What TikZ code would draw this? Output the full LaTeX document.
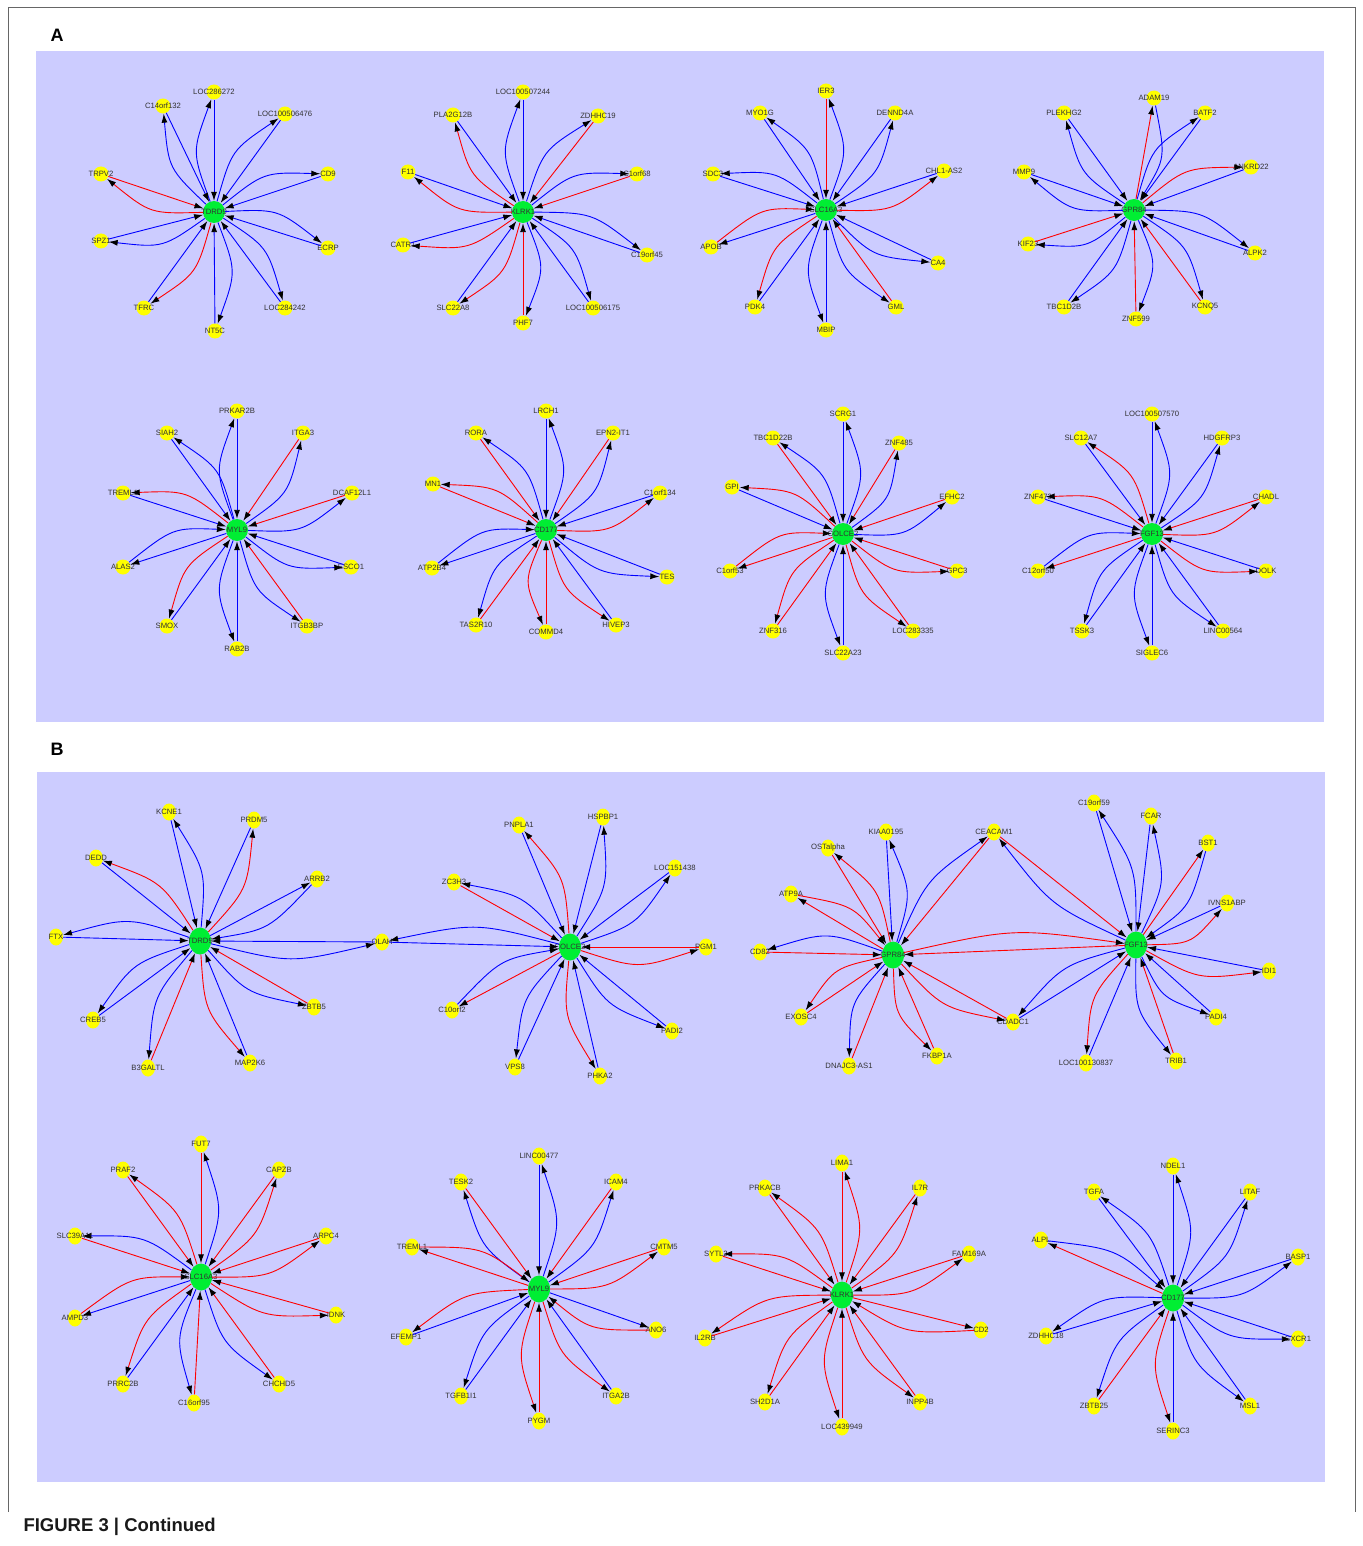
\documentclass[tikz,border=0pt]{standalone}
\usepackage{fontspec}
\setmainfont{Liberation Sans}
\usetikzlibrary{arrows.meta,calc,shapes.geometric}
\definecolor{bg}{RGB}{204,204,255}
\definecolor{er}{RGB}{255,0,0}
\definecolor{eb}{RGB}{0,0,255}
\definecolor{ny}{RGB}{255,255,0}
\definecolor{ng}{RGB}{0,238,51}
\definecolor{tx}{RGB}{51,51,51}
\tikzset{
 sa/.style={circle,fill=ny,minimum size=15pt,inner sep=0pt},
 ha/.style={circle,fill=ng,minimum size=22pt,inner sep=0pt},
 sb/.style={ellipse,fill=ny,minimum width=14pt,minimum height=17pt,inner sep=0pt},
 hb/.style={ellipse,fill=ng,minimum width=22pt,minimum height=27pt,inner sep=0pt},
 lab/.style={text=tx,font=\fontsize{7.7}{8}\selectfont,inner sep=0pt},
 edge/.style={line width=0.9pt},
 tipS/.style={-{Latex[length=9pt,width=6pt,color=black]}},
 tipH/.style={{Latex[length=9pt,width=6pt,color=black]}-},
 panel/.style={fill=bg},
}
\newcommand\mkSatA[4]{\node[sa] (#1) at (#2,#3) {}; \node[lab] at (#1) {#4};}
\newcommand\mkHubA[4]{\node[ha] (#1) at (#2,#3) {}; \node[lab] at (#1) {#4};}
\newcommand\mkSatB[4]{\node[sb] (#1) at (#2,#3) {}; \node[lab] at (#1) {#4};}
\newcommand\mkHubB[4]{\node[hb] (#1) at (#2,#3) {}; \node[lab] at (#1) {#4};}
% hub, sat, straight colour, straight tip (H/S), curve colour, curve tip (H/S), side angle
\newcommand\mkPair[7]{\draw[edge,#3,tip#4] (#1) -- (#2);
 \draw[edge,#5,tip#6] (#1) .. controls ($(#1)!.5!(#2)!22pt!#7:(#2)$) .. (#2);}
\begin{document}
\begin{tikzpicture}[x=1pt,y=-1pt]
\useasboundingbox (0,0) rectangle (1362,1546);
\fill[white] (0,0) rectangle (1362,1546);
\draw[black!60,line width=0.8pt] (8,1512) -- (8,7) -- (1355,7) -- (1355,1512);
\fill[panel] (36,51) rectangle (1324,722);
\fill[panel] (37,772) rectangle (1325,1482);
\node[font=\bfseries\fontsize{18}{20}\selectfont] (lA) at (57,35) {A};
\node[font=\bfseries\fontsize{18}{20}\selectfont] (lB) at (57,749) {B};
\node[anchor=west,font=\bfseries\fontsize{18.5}{20}\selectfont,text=black!90] (cap) at (20,1527) {FIGURE 3 | Continued};

% ===== Panel A nodes =====
% A1 TDRD9
\mkHubA{A1}{214}{212}{TDRD9}
\mkSatA{A1a}{214}{92}{LOC286272}
\mkSatA{A1b}{163}{106}{C14orf132}
\mkSatA{A1c}{285}{114}{LOC100506476}
\mkSatA{A1d}{328}{174}{CD9}
\mkSatA{A1e}{328}{248}{ECRP}
\mkSatA{A1f}{285}{308}{LOC284242}
\mkSatA{A1g}{215}{331}{NT5C}
\mkSatA{A1h}{144}{308}{TFRC}
\mkSatA{A1i}{101}{241}{SPZ1}
\mkSatA{A1j}{101}{174}{TRPV2}
% A2 KLRK1
\mkHubA{A2}{523}{212}{KLRK1}
\mkSatA{A2a}{523}{92}{LOC100507244}
\mkSatA{A2b}{453}{115}{PLA2G12B}
\mkSatA{A2c}{598}{116}{ZDHHC19}
\mkSatA{A2d}{637}{174}{C1orf68}
\mkSatA{A2e}{647}{255}{C19orf45}
\mkSatA{A2f}{593}{308}{LOC100506175}
\mkSatA{A2g}{523}{323}{PHF7}
\mkSatA{A2h}{453}{308}{SLC22A8}
\mkSatA{A2i}{403}{245}{CATR1}
\mkSatA{A2j}{408}{172}{F11}
% A3 SLC16A3
\mkHubA{A3}{826}{210}{SLC16A3}
\mkSatA{A3a}{826}{91}{IER3}
\mkSatA{A3b}{760}{113}{MYO1G}
\mkSatA{A3c}{895}{113}{DENND4A}
\mkSatA{A3d}{944}{171}{CHL1-AS2}
\mkSatA{A3e}{938}{263}{CA4}
\mkSatA{A3f}{896}{307}{GML}
\mkSatA{A3g}{826}{330}{MBIP}
\mkSatA{A3h}{755}{307}{PDK4}
\mkSatA{A3i}{711}{247}{APOB}
\mkSatA{A3j}{713}{174}{SDC3}
% A4 GPR84
\mkHubA{A4}{1134}{210}{GPR84}
\mkSatA{A4a}{1154}{98}{ADAM19}
\mkSatA{A4b}{1064}{113}{PLEKHG2}
\mkSatA{A4c}{1205}{113}{BATF2}
\mkSatA{A4d}{1251}{167}{ANKRD22}
\mkSatA{A4e}{1255}{253}{ALPK2}
\mkSatA{A4f}{1205}{307}{KCNQ5}
\mkSatA{A4g}{1136}{319}{ZNF599}
\mkSatA{A4h}{1064}{307}{TBC1D2B}
\mkSatA{A4i}{1028}{244}{KIF23}
\mkSatA{A4j}{1024}{172}{MMP9}
% A5 MYL9
\mkHubA{A5}{237}{530}{MYL9}
\mkSatA{A5a}{237}{411}{PRKAR2B}
\mkSatA{A5b}{167}{433}{SIAH2}
\mkSatA{A5c}{303}{433}{ITGA3}
\mkSatA{A5d}{352}{493}{DCAF12L1}
\mkSatA{A5e}{351}{567}{ESCO1}
\mkSatA{A5f}{307}{626}{ITGB3BP}
\mkSatA{A5g}{237}{649}{RAB2B}
\mkSatA{A5h}{167}{626}{SMOX}
\mkSatA{A5i}{123}{567}{ALAS2}
\mkSatA{A5j}{123}{493}{TREML1}
% A6 CD177
\mkHubA{A6}{546}{530}{CD177}
\mkSatA{A6a}{546}{411}{LRCH1}
\mkSatA{A6b}{476}{433}{RORA}
\mkSatA{A6c}{613}{433}{EPN2-IT1}
\mkSatA{A6d}{660}{493}{C1orf134}
\mkSatA{A6e}{667}{577}{TES}
\mkSatA{A6f}{616}{625}{HIVEP3}
\mkSatA{A6g}{546}{632}{COMMD4}
\mkSatA{A6h}{476}{625}{TAS2R10}
\mkSatA{A6i}{432}{568}{ATP2B4}
\mkSatA{A6j}{433}{484}{MN1}
% A7 COLCE2
\mkHubA{A7}{843}{534}{COLCE2}
\mkSatA{A7a}{843}{414}{SCRG1}
\mkSatA{A7b}{773}{438}{TBC1D22B}
\mkSatA{A7c}{899}{443}{ZNF485}
\mkSatA{A7d}{952}{497}{EFHC2}
\mkSatA{A7e}{957}{571}{GPC3}
\mkSatA{A7f}{913}{631}{LOC283335}
\mkSatA{A7g}{843}{653}{SLC22A23}
\mkSatA{A7h}{773}{631}{ZNF316}
\mkSatA{A7i}{730}{571}{C1orf53}
\mkSatA{A7j}{732}{487}{GPI}
% A8 FGF13
\mkHubA{A8}{1152}{534}{FGF13}
\mkSatA{A8a}{1152}{414}{LOC100507570}
\mkSatA{A8b}{1081}{438}{SLC12A7}
\mkSatA{A8c}{1222}{438}{HDGFRP3}
\mkSatA{A8d}{1266}{497}{CHADL}
\mkSatA{A8e}{1266}{571}{DOLK}
\mkSatA{A8f}{1223}{631}{LINC00564}
\mkSatA{A8g}{1152}{653}{SIGLEC6}
\mkSatA{A8h}{1082}{631}{TSSK3}
\mkSatA{A8i}{1038}{571}{C12orf50}
\mkSatA{A8j}{1038}{497}{ZNF473}

% ===== Panel B nodes =====
% B1 TDRD9
\mkHubB{B1}{200}{941}{TDRD9}
\mkSatB{B1a}{169}{812}{KCNE1}
\mkSatB{B1b}{254}{820}{PRDM5}
\mkSatB{B1c}{96}{858}{DEDD}
\mkSatB{B1d}{317}{879}{ARRB2}
\mkSatB{B1e}{56}{937}{FTX}
\mkSatB{B1f}{382}{942}{OLAH}
\mkSatB{B1g}{314}{1007}{ZBTB5}
\mkSatB{B1h}{250}{1063}{MAP2K6}
\mkSatB{B1i}{148}{1068}{B3GALTL}
\mkSatB{B1j}{93}{1020}{CREB5}
% B2 COLCE2
\mkHubB{B2}{570}{947}{COLCE2}
\mkSatB{B2a}{519}{825}{PNPLA1}
\mkSatB{B2b}{603}{817}{HSPBP1}
\mkSatB{B2c}{675}{868}{LOC151438}
\mkSatB{B2d}{454}{882}{ZC3H3}
\mkSatB{B2e}{706}{947}{PGM1}
\mkSatB{B2f}{672}{1031}{PADI2}
\mkSatB{B2g}{600}{1076}{PHKA2}
\mkSatB{B2h}{515}{1067}{VPS8}
\mkSatB{B2i}{452}{1010}{C10orf2}
% B3 GPR84
\mkHubB{B3}{893}{955}{GPR84}
\mkSatB{B3a}{828}{848}{OSTalpha}
\mkSatB{B3b}{886}{832}{KIAA0195}
\mkSatB{B3c}{994}{832}{CEACAM1}
\mkSatB{B3d}{791}{894}{ATP9A}
\mkSatB{B3e}{760}{952}{CD82}
\mkSatB{B3f}{801}{1017}{EXOSC4}
\mkSatB{B3g}{849}{1066}{DNAJC3-AS1}
\mkSatB{B3h}{937}{1056}{FKBP1A}
\mkSatB{B3i}{1013}{1022}{CDADC1}
% B4 FGF13
\mkHubB{B4}{1136}{945}{FGF13}
\mkSatB{B4a}{1094}{803}{C19orf59}
\mkSatB{B4b}{1151}{816}{FCAR}
\mkSatB{B4c}{1208}{843}{BST1}
\mkSatB{B4d}{1227}{903}{IVNS1ABP}
\mkSatB{B4e}{1269}{971}{IDI1}
\mkSatB{B4f}{1216}{1017}{PADI4}
\mkSatB{B4g}{1176}{1061}{TRIB1}
\mkSatB{B4h}{1086}{1063}{LOC100130837}
% B5 SLC16A3
\mkHubB{B5}{201}{1277}{SLC16A3}
\mkSatB{B5a}{201}{1144}{FUT7}
\mkSatB{B5b}{123}{1170}{PRAF2}
\mkSatB{B5c}{279}{1170}{CAPZB}
\mkSatB{B5d}{75}{1236}{SLC39A11}
\mkSatB{B5e}{326}{1236}{ARPC4}
\mkSatB{B5f}{336}{1315}{IDNK}
\mkSatB{B5g}{279}{1384}{CHCHD5}
\mkSatB{B5h}{194}{1403}{C16orf95}
\mkSatB{B5i}{123}{1384}{PRRC2B}
\mkSatB{B5j}{75}{1318}{AMPD3}
% B6 MYL9
\mkHubB{B6}{539}{1289}{MYL9}
\mkSatB{B6a}{539}{1156}{LINC00477}
\mkSatB{B6b}{461}{1182}{TESK2}
\mkSatB{B6c}{616}{1182}{ICAM4}
\mkSatB{B6d}{412}{1247}{TREML1}
\mkSatB{B6e}{664}{1247}{CMTM5}
\mkSatB{B6f}{656}{1330}{ANO6}
\mkSatB{B6g}{616}{1396}{ITGA2B}
\mkSatB{B6h}{539}{1421}{PYGM}
\mkSatB{B6i}{461}{1396}{TGFB1I1}
\mkSatB{B6j}{406}{1337}{EFEMP1}
% B7 KLRK1
\mkHubB{B7}{842}{1295}{KLRK1}
\mkSatB{B7a}{842}{1163}{LIMA1}
\mkSatB{B7b}{765}{1188}{PRKACB}
\mkSatB{B7c}{920}{1188}{IL7R}
\mkSatB{B7d}{716}{1254}{SYTL2}
\mkSatB{B7e}{969}{1254}{FAM169A}
\mkSatB{B7f}{981}{1330}{CD2}
\mkSatB{B7g}{920}{1402}{INPP4B}
\mkSatB{B7h}{842}{1427}{LOC439949}
\mkSatB{B7i}{765}{1402}{SH2D1A}
\mkSatB{B7j}{705}{1338}{IL2RB}
% B8 CD177
\mkHubB{B8}{1173}{1298}{CD177}
\mkSatB{B8a}{1173}{1166}{NDEL1}
\mkSatB{B8b}{1094}{1192}{TGFA}
\mkSatB{B8c}{1250}{1192}{LITAF}
\mkSatB{B8d}{1041}{1240}{ALPL}
\mkSatB{B8e}{1298}{1257}{BASP1}
\mkSatB{B8f}{1298}{1339}{CXCR1}
\mkSatB{B8g}{1250}{1406}{MSL1}
\mkSatB{B8h}{1173}{1431}{SERINC3}
\mkSatB{B8i}{1094}{1406}{ZBTB25}
\mkSatB{B8j}{1046}{1336}{ZDHHC18}

% ===== edges =====
% A1 (left)
\mkPair{A1}{A1a}{eb}{H}{eb}{S}{90}
\mkPair{A1}{A1b}{eb}{H}{eb}{S}{90}
\mkPair{A1}{A1c}{eb}{H}{eb}{S}{90}
\mkPair{A1}{A1d}{eb}{H}{eb}{S}{90}
\mkPair{A1}{A1e}{eb}{H}{eb}{S}{90}
\mkPair{A1}{A1f}{eb}{H}{eb}{S}{90}
\mkPair{A1}{A1g}{eb}{H}{eb}{S}{90}
\mkPair{A1}{A1h}{eb}{H}{er}{S}{90}
\mkPair{A1}{A1i}{eb}{H}{eb}{S}{90}
\mkPair{A1}{A1j}{er}{H}{er}{S}{90}
% A2 (left)
\mkPair{A2}{A2a}{eb}{H}{eb}{S}{90}
\mkPair{A2}{A2b}{eb}{H}{er}{S}{90}
\mkPair{A2}{A2c}{er}{H}{eb}{S}{90}
\mkPair{A2}{A2d}{er}{H}{eb}{S}{90}
\mkPair{A2}{A2e}{eb}{H}{eb}{S}{90}
\mkPair{A2}{A2f}{eb}{H}{eb}{S}{90}
\mkPair{A2}{A2g}{er}{H}{eb}{S}{90}
\mkPair{A2}{A2h}{eb}{H}{er}{S}{90}
\mkPair{A2}{A2i}{eb}{H}{er}{S}{90}
\mkPair{A2}{A2j}{eb}{H}{er}{S}{90}
% A3 (right)
\mkPair{A3}{A3a}{er}{H}{eb}{S}{-90}
\mkPair{A3}{A3b}{eb}{H}{eb}{S}{-90}
\mkPair{A3}{A3c}{eb}{H}{eb}{S}{-90}
\mkPair{A3}{A3d}{eb}{H}{er}{S}{-90}
\mkPair{A3}{A3e}{eb}{H}{eb}{S}{-90}
\mkPair{A3}{A3f}{er}{H}{eb}{S}{-90}
\mkPair{A3}{A3g}{eb}{H}{eb}{S}{-90}
\mkPair{A3}{A3h}{eb}{H}{er}{S}{-90}
\mkPair{A3}{A3i}{eb}{S}{er}{H}{-90}
\mkPair{A3}{A3j}{eb}{H}{eb}{S}{-90}
% A4
\mkPair{A4}{A4a}{er}{S}{eb}{H}{-90}
\mkPair{A4}{A4b}{eb}{H}{eb}{S}{90}
\mkPair{A4}{A4c}{eb}{H}{eb}{S}{90}
\mkPair{A4}{A4d}{eb}{H}{er}{S}{90}
\mkPair{A4}{A4e}{eb}{H}{eb}{S}{90}
\mkPair{A4}{A4f}{er}{H}{eb}{S}{90}
\mkPair{A4}{A4g}{er}{H}{eb}{S}{90}
\mkPair{A4}{A4h}{eb}{H}{eb}{S}{90}
\mkPair{A4}{A4i}{er}{H}{eb}{S}{90}
\mkPair{A4}{A4j}{eb}{H}{eb}{S}{90}
% A5
\mkPair{A5}{A5a}{eb}{H}{eb}{S}{90}
\mkPair{A5}{A5b}{eb}{H}{eb}{S}{-90}
\mkPair{A5}{A5c}{er}{H}{eb}{S}{-90}
\mkPair{A5}{A5d}{er}{H}{eb}{S}{-90}
\mkPair{A5}{A5e}{eb}{H}{eb}{S}{-90}
\mkPair{A5}{A5f}{er}{H}{eb}{S}{-90}
\mkPair{A5}{A5g}{eb}{H}{eb}{S}{-90}
\mkPair{A5}{A5h}{eb}{H}{er}{S}{-90}
\mkPair{A5}{A5i}{eb}{S}{eb}{H}{-90}
\mkPair{A5}{A5j}{eb}{H}{er}{S}{-90}
% A6
\mkPair{A6}{A6a}{eb}{H}{eb}{S}{-90}
\mkPair{A6}{A6b}{er}{H}{eb}{S}{-90}
\mkPair{A6}{A6c}{er}{H}{eb}{S}{-90}
\mkPair{A6}{A6d}{eb}{H}{er}{S}{-90}
\mkPair{A6}{A6e}{eb}{H}{eb}{S}{-90}
\mkPair{A6}{A6f}{eb}{H}{er}{S}{-90}
\mkPair{A6}{A6g}{er}{H}{er}{S}{-90}
\mkPair{A6}{A6h}{er}{H}{eb}{S}{-90}
\mkPair{A6}{A6i}{eb}{S}{eb}{H}{-90}
\mkPair{A6}{A6j}{er}{H}{er}{S}{-90}
% A7
\mkPair{A7}{A7a}{eb}{H}{eb}{S}{-90}
\mkPair{A7}{A7b}{er}{H}{eb}{S}{-90}
\mkPair{A7}{A7c}{er}{H}{eb}{S}{-90}
\mkPair{A7}{A7d}{er}{H}{eb}{S}{-90}
\mkPair{A7}{A7e}{er}{H}{er}{S}{-90}
\mkPair{A7}{A7f}{er}{H}{er}{S}{-90}
\mkPair{A7}{A7g}{eb}{H}{eb}{S}{-90}
\mkPair{A7}{A7h}{er}{H}{er}{S}{-90}
\mkPair{A7}{A7i}{er}{S}{er}{H}{-90}
\mkPair{A7}{A7j}{eb}{H}{er}{S}{-90}
% A8
\mkPair{A8}{A8a}{eb}{H}{eb}{S}{-90}
\mkPair{A8}{A8b}{eb}{H}{er}{S}{-90}
\mkPair{A8}{A8c}{eb}{H}{eb}{S}{-90}
\mkPair{A8}{A8d}{er}{H}{er}{S}{-90}
\mkPair{A8}{A8e}{eb}{H}{er}{S}{-90}
\mkPair{A8}{A8f}{eb}{H}{eb}{S}{-90}
\mkPair{A8}{A8g}{eb}{H}{eb}{S}{-90}
\mkPair{A8}{A8h}{eb}{H}{eb}{S}{-90}
\mkPair{A8}{A8i}{er}{S}{eb}{H}{-90}
\mkPair{A8}{A8j}{eb}{H}{er}{S}{-90}
% B1
\mkPair{B1}{B1a}{eb}{H}{eb}{S}{-90}
\mkPair{B1}{B1b}{eb}{H}{er}{S}{-90}
\mkPair{B1}{B1c}{eb}{H}{er}{S}{-90}
\mkPair{B1}{B1d}{eb}{S}{eb}{H}{-90}
\mkPair{B1}{B1e}{eb}{H}{eb}{S}{-90}
\mkPair{B1}{B1f}{eb}{H}{eb}{S}{-90}
\mkPair{B1}{B1g}{er}{H}{eb}{S}{-90}
\mkPair{B1}{B1h}{eb}{H}{er}{S}{-90}
\mkPair{B1}{B1i}{er}{H}{eb}{S}{-90}
\mkPair{B1}{B1j}{eb}{H}{eb}{S}{-90}
% B2
\mkPair{B2}{B2a}{eb}{H}{er}{S}{-90}
\mkPair{B2}{B2b}{eb}{H}{eb}{S}{-90}
\mkPair{B2}{B2c}{eb}{H}{eb}{S}{-90}
\mkPair{B2}{B2d}{er}{H}{eb}{S}{-90}
\mkPair{B2}{B2e}{er}{H}{er}{S}{-90}
\mkPair{B2}{B2f}{eb}{H}{eb}{S}{-90}
\mkPair{B2}{B2g}{eb}{H}{er}{S}{-90}
\mkPair{B2}{B2h}{eb}{H}{eb}{S}{-90}
\mkPair{B2}{B2i}{er}{S}{eb}{H}{-90}
\mkPair{B2}{B1f}{eb}{H}{eb}{S}{-90}
% B3
\mkPair{B3}{B3a}{er}{H}{er}{S}{-90}
\mkPair{B3}{B3b}{eb}{H}{eb}{S}{-90}
\mkPair{B3}{B3c}{er}{H}{eb}{S}{90}
\mkPair{B3}{B3d}{er}{S}{er}{H}{-90}
\mkPair{B3}{B3e}{er}{H}{eb}{S}{-90}
\mkPair{B3}{B3f}{er}{H}{er}{S}{-90}
\mkPair{B3}{B3g}{er}{H}{eb}{S}{-90}
\mkPair{B3}{B3h}{er}{H}{er}{S}{-90}
\mkPair{B3}{B3i}{er}{H}{er}{S}{-90}
% B4
\mkPair{B4}{B4a}{eb}{H}{eb}{S}{-90}
\mkPair{B4}{B4b}{eb}{H}{eb}{S}{-90}
\mkPair{B4}{B4c}{er}{S}{eb}{H}{-90}
\mkPair{B4}{B4d}{eb}{H}{er}{S}{-90}
\mkPair{B4}{B4e}{eb}{H}{er}{S}{-90}
\mkPair{B4}{B4f}{eb}{H}{eb}{S}{-90}
\mkPair{B4}{B4g}{er}{H}{eb}{S}{-90}
\mkPair{B4}{B4h}{eb}{H}{er}{S}{-90}
\mkPair{B4}{B3i}{eb}{H}{eb}{S}{-90}
\mkPair{B4}{B3c}{er}{H}{eb}{S}{90}
\mkPair{B4}{B3}{er}{S}{er}{H}{-90}
% B5
\mkPair{B5}{B5a}{er}{H}{eb}{S}{-90}
\mkPair{B5}{B5b}{er}{H}{er}{S}{-90}
\mkPair{B5}{B5c}{er}{H}{er}{S}{-90}
\mkPair{B5}{B5d}{er}{H}{eb}{S}{-90}
\mkPair{B5}{B5e}{er}{H}{er}{S}{-90}
\mkPair{B5}{B5f}{er}{H}{er}{S}{-90}
\mkPair{B5}{B5g}{er}{H}{eb}{S}{-90}
\mkPair{B5}{B5h}{er}{H}{eb}{S}{-90}
\mkPair{B5}{B5i}{eb}{H}{er}{S}{-90}
\mkPair{B5}{B5j}{eb}{S}{er}{H}{-90}
% B6
\mkPair{B6}{B6a}{eb}{H}{eb}{S}{-90}
\mkPair{B6}{B6b}{er}{H}{eb}{S}{90}
\mkPair{B6}{B6c}{er}{H}{eb}{S}{-90}
\mkPair{B6}{B6d}{er}{S}{er}{H}{-90}
\mkPair{B6}{B6e}{er}{H}{er}{S}{-90}
\mkPair{B6}{B6f}{eb}{S}{er}{H}{-90}
\mkPair{B6}{B6g}{eb}{H}{er}{S}{-90}
\mkPair{B6}{B6h}{er}{H}{er}{S}{-90}
\mkPair{B6}{B6i}{eb}{H}{eb}{S}{-90}
\mkPair{B6}{B6j}{eb}{H}{er}{S}{-90}
% B7
\mkPair{B7}{B7a}{er}{H}{er}{S}{-90}
\mkPair{B7}{B7b}{er}{H}{er}{S}{-90}
\mkPair{B7}{B7c}{er}{H}{er}{S}{-90}
\mkPair{B7}{B7d}{er}{H}{er}{S}{-90}
\mkPair{B7}{B7e}{er}{H}{er}{S}{-90}
\mkPair{B7}{B7f}{er}{S}{er}{H}{-90}
\mkPair{B7}{B7g}{er}{H}{er}{S}{-90}
\mkPair{B7}{B7h}{er}{H}{er}{S}{-90}
\mkPair{B7}{B7i}{er}{H}{er}{S}{-90}
\mkPair{B7}{B7j}{er}{H}{er}{S}{-90}
% B8
\mkPair{B8}{B8a}{eb}{H}{eb}{S}{-90}
\mkPair{B8}{B8b}{eb}{H}{eb}{S}{-90}
\mkPair{B8}{B8c}{eb}{H}{eb}{S}{-90}
\mkPair{B8}{B8d}{er}{S}{eb}{H}{-90}
\mkPair{B8}{B8e}{eb}{H}{eb}{S}{-90}
\mkPair{B8}{B8f}{eb}{H}{eb}{S}{-90}
\mkPair{B8}{B8g}{eb}{H}{eb}{S}{-90}
\mkPair{B8}{B8h}{eb}{H}{er}{S}{-90}
\mkPair{B8}{B8i}{er}{H}{eb}{S}{-90}
\mkPair{B8}{B8j}{eb}{H}{eb}{S}{-90}
\end{tikzpicture}
\end{document}
